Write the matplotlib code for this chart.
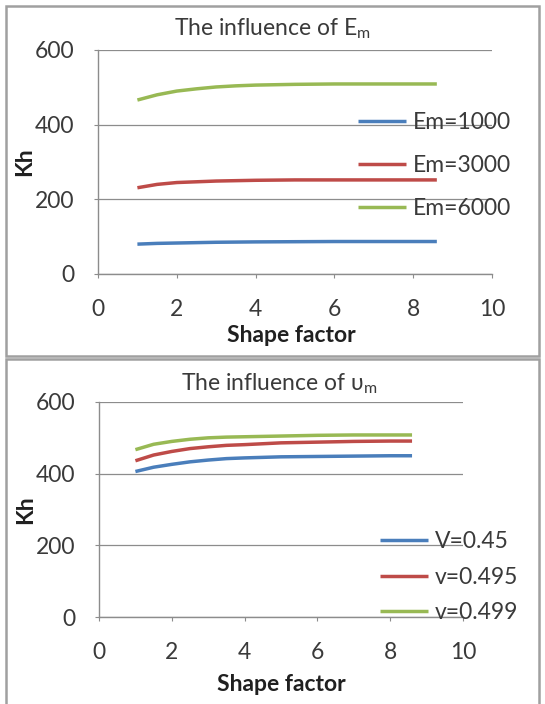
import matplotlib
matplotlib.use('Agg')
import matplotlib.pyplot as plt
from matplotlib.patches import Rectangle

plt.rcParams['font.family'] = ['Lato', 'DejaVu Sans']
plt.rcParams['mathtext.fontset'] = 'custom'
plt.rcParams['mathtext.rm'] = 'Lato'

# data
shape_factor = [1, 1.5, 2, 2.5, 3, 3.5, 4, 5, 6, 7, 8, 8.6]

em_labels = ['Em=1000', 'Em=3000', 'Em=6000']
kh_em1000 = [80, 82, 83, 84, 85, 85.5, 86, 86.5, 87, 87, 87, 87]
kh_em3000 = [231, 240, 245, 247, 249, 250, 251, 252, 252, 252, 252, 252]
kh_em6000 = [466, 480, 490, 496, 501, 504, 506, 508, 509, 509, 509, 509]

nu_labels = ['V=0.45', 'v=0.495', 'v=0.499']
kh_nu045 = [406, 418, 426, 433, 438, 442, 444, 447, 448, 449, 450, 450]
kh_nu0495 = [436, 452, 462, 470, 475, 479, 481, 486, 488, 490, 491, 491]
kh_nu0499 = [467, 482, 490, 496, 500, 502, 503, 505, 507, 508, 508, 508]

colors = ['#4a7ebb', '#be4b48', '#98b954']
grey = '#8c8c8c'
txt = '#3a3a3a'
fs = 16.5

fig = plt.figure(figsize=(5.45, 7.04), dpi=100)

# panel frames
for y0, h in [(1 - 356 / 704, 350 / 704), (-0.01, 1 - 359 / 704 + 0.01)]:
    fig.add_artist(Rectangle((6 / 545, y0), 533 / 545, h, transform=fig.transFigure,
                             fill=False, edgecolor='#a0a0a0', lw=1.8))


def style_axes(ax, title, tx, ty):
    ax.set_xlim(0, 10)
    ax.set_ylim(0, 600)
    ax.set_xticks([0, 2, 4, 6, 8, 10])
    ax.set_yticks([0, 200, 400, 600])
    for s in ['top', 'right']:
        ax.spines[s].set_visible(False)
    for s in ['left', 'bottom']:
        ax.spines[s].set_color(grey)
        ax.spines[s].set_linewidth(1.0)
    ax.yaxis.grid(True, color=grey, lw=0.9)
    ax.set_axisbelow(True)
    ax.tick_params(axis='y', length=3, color=grey, pad=14, labelsize=fs, labelcolor=txt)
    ax.tick_params(axis='x', length=3, color=grey, pad=15, labelsize=fs, labelcolor=txt)
    ax.set_ylabel('Kh', fontsize=fs, fontweight='bold', color='#202020')
    ax.set_xlabel('Shape factor', fontsize=fs, fontweight='bold', color='#202020')
    fig.text(tx, ty, title, fontsize=fs, color=txt, ha='center', va='center')


ax1 = fig.add_axes([98 / 545, 1 - 274 / 704, 394 / 545, 224 / 704])
for ys, lab, c in zip([kh_em1000, kh_em3000, kh_em6000], em_labels, colors):
    ax1.plot(shape_factor, ys, color=c, lw=2.5, label=lab, solid_capstyle='butt')
style_axes(ax1, r'The influence of E$\mathregular{_m}$', 272 / 545, 1 - 29 / 704)
ax1.xaxis.set_label_coords(0.49, -0.228)
ax1.yaxis.set_label_coords(-0.159, 0.5)
ax1.legend(loc='upper left', bbox_to_anchor=(358 / 545, 1 - 112 / 704), bbox_transform=fig.transFigure,
           frameon=False, fontsize=fs, handlelength=2.1, handletextpad=0.3, labelspacing=0.95,
           borderpad=0, borderaxespad=0, labelcolor=txt)

ax2 = fig.add_axes([99 / 545, 1 - 617 / 704, 364 / 545, 215 / 704])
for ys, lab, c in zip([kh_nu045, kh_nu0495, kh_nu0499], nu_labels, colors):
    ax2.plot(shape_factor, ys, color=c, lw=2.5, label=lab, solid_capstyle='butt')
style_axes(ax2, 'The influence of υ$\\mathregular{_m}$', 279 / 545, 1 - 384 / 704)
ax2.xaxis.set_label_coords(0.5, -0.265)
ax2.yaxis.set_label_coords(-0.174, 0.5)
ax2.legend(loc='upper left', bbox_to_anchor=(380 / 545, 1 - 531 / 704), bbox_transform=fig.transFigure,
           frameon=False, fontsize=fs, handlelength=2.1, handletextpad=0.3, labelspacing=0.64,
           borderpad=0, borderaxespad=0, labelcolor=txt)

fig.savefig('out.png', dpi=100)
